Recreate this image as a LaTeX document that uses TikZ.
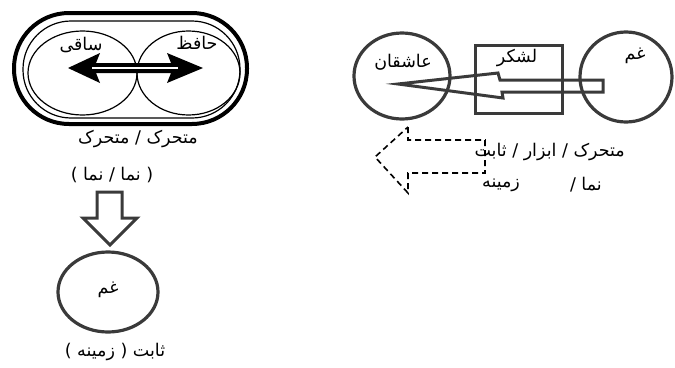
\documentclass[tikz,border=0pt]{standalone}
\usepackage{fontspec}
\newfontfamily\arabicfont[Script=Arabic]{DejaVu Sans}
\TeXXeTstate=1
\usetikzlibrary{shapes.geometric}
\definecolor{dk}{HTML}{3A3A3A}
\begin{document}
\begin{tikzpicture}[x=1pt,y=-1pt,
  lbl/.style={font=\arabicfont\fontsize{17.5}{19}\selectfont, inner sep=0pt, text=black},
  thinring/.style={draw=black, line width=1.2pt, ellipse, inner sep=0pt},
  grayring/.style={draw=dk, line width=3.2pt, ellipse, inner sep=0pt},
  grayline/.style={draw=dk, line width=3pt, line join=miter},
  dasharrow/.style={draw=black, line width=1.6pt, dashed, dash pattern=on 6pt off 4pt}]
\useasboundingbox (0,0) rectangle (675,367);
% left stadium
\draw[line width=4pt, rounded corners=55pt] (14,13) rectangle (247,124);
\draw[line width=1.2pt, rounded corners=48pt] (23,21) rectangle (240,118);
\node[thinring, minimum width=109pt, minimum height=84pt] (saqi) at (82.5,73) {};
\node[thinring, minimum width=103pt, minimum height=84pt] (hafez) at (188.5,73) {};
\node[lbl] (tsaqi) at (81,45) {\beginR ساقی\endR};
\node[lbl] (thafez) at (197,43) {\beginR حافظ\endR};
% double headed arrow
\fill[black] (68,68) -- (100,53) -- (96,63) -- (171,63) -- (167,53) -- (203,68)
  -- (167,83) -- (171,73) -- (96,73) -- (100,83) -- cycle;
\draw[white, line width=1.3pt] (92,68) -- (178,68);
% labels under stadium
\node[lbl] (t1) at (138,139) {\beginR متحرک / متحرک\endR};
\node[lbl] (t2) at (112,175) {\beginR ( نما / نما )\endR};
% down block arrow
\draw[grayline] (97,192) -- (122,192) -- (122,218) -- (137,218) -- (110,245)
  -- (83,218) -- (97,218) -- cycle;
\node[grayring, minimum width=100pt, minimum height=80pt] (gham1) at (108,292) {};
\node[lbl] (tgham1) at (108,290) {\beginR غم\endR};
\node[lbl] (t3) at (115,352) {\beginR ثابت ( زمینه )\endR};
% right group
\node[grayring, minimum width=96pt, minimum height=86pt] (asheqan) at (402,76) {};
\draw[grayline] (475,45) rectangle (562,113);
\coordinate (lashkar) at (518.5,79);
\node[grayring, minimum width=92pt, minimum height=90pt] (gham2) at (626,77) {};
\node[lbl] (tasheqan) at (403,62) {\beginR عاشقان\endR};
\node[lbl] (tlashkar) at (517,58) {\beginR لشکر\endR};
\node[lbl] (tgham2) at (635,56) {\beginR غم\endR};
% thin arrow through the box
\draw[grayline] (398,84) -- (498,73) -- (500,80) -- (603,80) -- (603,92)
  -- (502,92) -- (503,98) -- cycle;
% dashed hollow arrow
\draw[dasharrow] (408,127) -- (408,140) -- (485,140) -- (485,173) -- (408,173)
  -- (408,193) -- (375,157) -- cycle;
\node[lbl, anchor=east] (t4) at (625,152) {\beginR متحرک / ابزار / ثابت\endR};
\node[lbl, anchor=east] (t5) at (602,185) {\beginR نما /\endR};
\node[lbl] (t6) at (501,185) {\beginR زمینه\endR};
\end{tikzpicture}
\end{document}
